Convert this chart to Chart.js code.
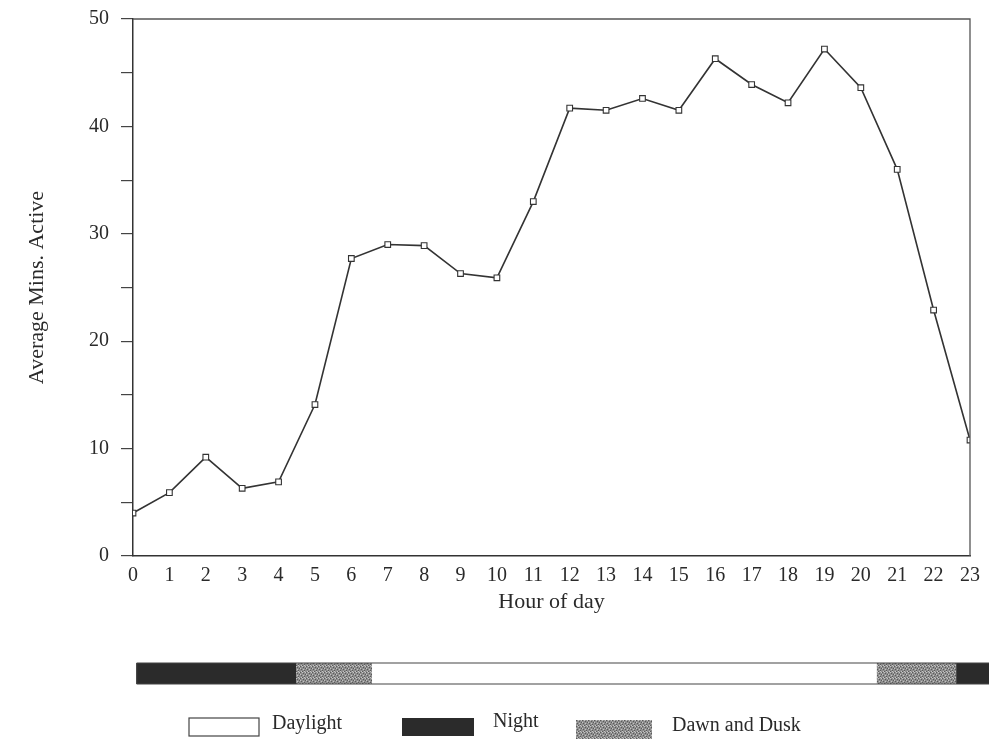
<!DOCTYPE html>
<html>
<head>
<meta charset="utf-8">
<script src="https://cdn.jsdelivr.net/npm/chart.js@4.4.1/dist/chart.umd.min.js"></script>
<style>
  html, body { margin: 0; padding: 0; background: #fff; }
  #wrap { width: 989px; height: 743px; }
</style>
</head>
<body>
<div id="wrap"><canvas id="chart"></canvas></div>
<script>
const hours = [0, 1, 2, 3, 4, 5, 6, 7, 8, 9, 10, 11, 12, 13, 14, 15, 16, 17, 18, 19, 20, 21, 22, 23];
const avgMinsActive = [4.0, 5.9, 9.2, 6.3, 6.9, 14.1, 27.7, 29.0, 28.9, 26.3, 25.9, 33.0,
                       41.7, 41.5, 42.6, 41.5, 46.3, 43.9, 42.2, 47.2, 43.6, 36.0, 22.9, 10.8];
const yTicks = [0, 10, 20, 30, 40, 50];

// light phases along the hour axis
const phaseNames = ['Night', 'Dawn and Dusk', 'Daylight', 'Dawn and Dusk', 'Night'];
const phaseStart = [0.1, 4.48, 6.57, 20.44, 22.62];
const phaseEnd = [4.48, 6.57, 20.44, 22.62, 23.6];

const serif = "'Liberation Serif', 'DejaVu Serif', serif";
const ink = '#2a2a2a';

// speckled grey used for dawn / dusk
function stipple(ctx) {
    const c = document.createElement('canvas');
    c.width = 6; c.height = 6;
    const p = c.getContext('2d');
    p.fillStyle = '#8e8e8e';
    p.fillRect(0, 0, 6, 6);
    p.fillStyle = '#5a5a5a';
    [[0, 0], [3, 1], [1, 3], [4, 4], [5, 2], [2, 5]].forEach(([x, y]) => p.fillRect(x, y, 1, 1));
    p.fillStyle = '#c4c4c4';
    [[2, 0], [5, 0], [0, 2], [3, 3], [1, 5], [4, 5]].forEach(([x, y]) => p.fillRect(x, y, 1, 1));
    return ctx.createPattern(c, 'repeat');
}

function phaseFill(ctx, name) {
    if (name === 'Night') return '#2b2b2b';
    if (name === 'Daylight') return '#ffffff';
    return stipple(ctx);
}

const extras = {
    id: 'extras',
    afterDraw(chart) {
        const { ctx, chartArea: a, scales: { x } } = chart;
        ctx.save();
        // frame top / right
        ctx.strokeStyle = '#555';
        ctx.lineWidth = 1.3;
        ctx.beginPath();
        ctx.moveTo(a.left, a.top);
        ctx.lineTo(a.right, a.top);
        ctx.lineTo(a.right, a.bottom);
        ctx.stroke();

        // light phase strip
        const top = 663, h = 21;
        phaseNames.forEach((name, i) => {
            const x0 = x.getPixelForValue(phaseStart[i]);
            const x1 = x.getPixelForValue(phaseEnd[i]);
            ctx.fillStyle = phaseFill(ctx, name);
            ctx.fillRect(x0, top, x1 - x0, h);
        });
        ctx.strokeStyle = '#444';
        ctx.lineWidth = 1.2;
        const sx0 = x.getPixelForValue(phaseStart[0]);
        const sx1 = x.getPixelForValue(phaseEnd[phaseEnd.length - 1]);
        ctx.beginPath();
        ctx.moveTo(sx0, top); ctx.lineTo(sx1, top);
        ctx.moveTo(sx0, top + h); ctx.lineTo(sx1, top + h);
        ctx.moveTo(sx0, top); ctx.lineTo(sx0, top + h);
        ctx.stroke();

        // legend
        const items = [
            { name: 'Daylight', box: [189, 718, 70, 18], tx: 272, ty: 724 },
            { name: 'Night', box: [402, 718, 72, 18], tx: 493, ty: 722 },
            { name: 'Dawn and Dusk', box: [576, 720, 76, 19], tx: 672, ty: 726 }
        ];
        ctx.font = '20px ' + serif;
        ctx.textBaseline = 'middle';
        items.forEach(it => {
            const [bx, by, bw, bh] = it.box;
            ctx.fillStyle = phaseFill(ctx, it.name);
            ctx.fillRect(bx, by, bw, bh);
            if (it.name === 'Daylight') {
                ctx.strokeStyle = '#444';
                ctx.lineWidth = 1.2;
                ctx.strokeRect(bx, by, bw, bh);
            }
            ctx.fillStyle = ink;
            ctx.fillText(it.name, it.tx, it.ty);
        });
        ctx.restore();
    }
};

new Chart(document.getElementById('chart'), {
    type: 'line',
    data: {
        datasets: [{
            data: hours.map((h, i) => ({ x: h, y: avgMinsActive[i] })),
            borderColor: '#333',
            borderWidth: 1.6,
            tension: 0,
            pointStyle: 'rect',
            pointRadius: 4,
            pointBorderWidth: 1.1,
            pointBackgroundColor: '#fff',
            pointBorderColor: '#333'
        }]
    },
    options: {
        responsive: true,
        maintainAspectRatio: false,
        animation: false,
        layout: { padding: { top: 19, right: 19, left: 24, bottom: 128 } },
        plugins: {
            legend: { display: false },
            tooltip: { enabled: false }
        },
        scales: {
            x: {
                type: 'linear',
                min: 0,
                max: 23,
                afterBuildTicks: s => { s.ticks = hours.map(v => ({ value: v })); },
                afterFit: s => { s.height = 59; s.paddingLeft = 0; s.paddingRight = 0; },
                grid: { drawOnChartArea: false, drawTicks: false },
                border: { color: '#333', width: 1.5 },
                ticks: { color: ink, padding: 8, maxRotation: 0, autoSkip: false, font: { family: serif, size: 20 } },
                title: { display: true, text: 'Hour of day', color: ink, padding: { top: 2, bottom: 0 }, font: { family: serif, size: 22 } }
            },
            y: {
                min: 0,
                max: 50,
                afterBuildTicks: s => {
                    const t = [];
                    for (let v = 0; v <= 50; v += 5) t.push({ value: v });
                    s.ticks = t;
                },
                afterFit: s => { s.width = 109; s.paddingTop = 0; s.paddingBottom = 0; },
                grid: { drawOnChartArea: false, drawTicks: true, tickLength: 12, color: '#444', lineWidth: 1.2 },
                border: { color: '#333', width: 1.5 },
                ticks: {
                    color: ink,
                    padding: 12,
                    font: { family: serif, size: 20 },
                    callback: v => yTicks.includes(v) ? String(v) : ''
                },
                title: { display: true, text: 'Average Mins. Active', color: ink, padding: { top: 0, bottom: 8 }, font: { family: serif, size: 22 } }
            }
        }
    },
    plugins: [extras]
});
</script>
</body>
</html>
